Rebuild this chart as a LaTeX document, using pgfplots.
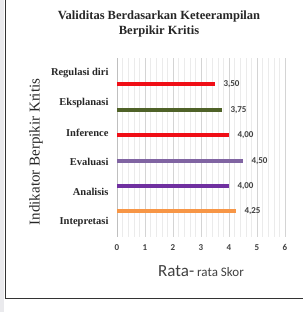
\documentclass[border=0pt]{standalone}
\usepackage{pgfplots}
\pgfplotsset{compat=1.18}
\usepackage{fontspec}
\setmainfont{Liberation Serif}
\newfontfamily\calib{Carlito}

\definecolor{barred}{HTML}{F00E16}
\definecolor{barolive}{HTML}{4F6228}
\definecolor{barlilac}{HTML}{8064A2}
\definecolor{barpurple}{HTML}{7030A0}
\definecolor{barorange}{HTML}{F79646}
\definecolor{txtgray}{HTML}{404040}

\begin{document}
\begin{tikzpicture}[x=1pt,y=1pt]
\useasboundingbox (0,0) rectangle (303,312);
% page margin strip and frame
\fill[blue!8!gray!15] (0,0) rectangle (4,312);
\draw[line width=1.2pt, black!80] (5.5,312) -- (5.5,13.5) -- (303,13.5);

% title
\node[font=\bfseries\fontsize{12.5}{15}\selectfont, align=center, text=black!85] at (159,288) {Validitas Berdasarkan Keteerampilan\\Berpikir Kritis};
% axis title on the left
\node[rotate=90, font=\fontsize{15}{17}\selectfont, text=black!85] at (36,160) {Indikator Berpikir Kritis};
% axis title below
\node[font=\calib, text=txtgray, anchor=base] at (201,35) {\fontsize{17}{19}\selectfont Rata-\fontsize{13}{15}\selectfont\ rata Skor};

\begin{axis}[
  at={(117pt,75pt)}, anchor=south west,
  scale only axis, width=168pt, height=179pt,
  xmin=0, xmax=6, ymin=-0.5, ymax=5.5,
  xtick={0,...,6}, minor x tick num=4,
  xmajorgrids, xminorgrids,
  major grid style={draw=black!17, line width=0.6pt},
  minor grid style={draw=black!8, line width=0.5pt},
  axis line style={draw=none},
  x tick style={draw=none},
  xticklabel style={font=\calib\bfseries\fontsize{9}{10}\selectfont, text=txtgray, yshift=-4pt},
  /pgf/number format/assume math mode=true,
  ytick={0,...,5},
  yticklabels={Intepretasi, Analisis, Evaluasi, Inference, Eksplanasi, Regulasi diri},
  yticklabel style={font=\bfseries\fontsize{10.5}{12}\selectfont, text=black!85, xshift=-5pt},
  y tick style={draw=none},
  extra y ticks={-0.5,0.5,1.5,2.5,3.5,4.5,5.5},
  extra y tick labels={},
  extra y tick style={tick style={draw=black!25, line width=0.5pt}, major tick length=4pt, tick align=outside, ytick pos=left},
  clip=false,
  point meta=x,
  nodes near coords={\pgfmathprintnumber[fixed,fixed zerofill,precision=2,use comma,assume math mode=true]{\pgfplotspointmeta}},
  every node near coord/.style={font=\calib\bfseries\fontsize{9}{10}\selectfont, text=txtgray, anchor=west, xshift=5pt},
]
\draw[black!25, line width=0.6pt] (axis cs:0,-0.5) -- (axis cs:0,5.5);
\addplot[xbar, bar width=4.5pt, bar shift=0pt, fill=barred, draw=none] coordinates {(3.50,4.63)};
\addplot[xbar, bar width=4.5pt, bar shift=0pt, fill=barolive, draw=none] coordinates {(3.75,3.76)};
\addplot[xbar, bar width=4.5pt, bar shift=0pt, fill=barred, draw=none] coordinates {(4.00,2.92)};
\addplot[xbar, bar width=4.5pt, bar shift=0pt, fill=barlilac, draw=none] coordinates {(4.50,2.05)};
\addplot[xbar, bar width=4.5pt, bar shift=0pt, fill=barpurple, draw=none] coordinates {(4.00,1.21)};
\addplot[xbar, bar width=4.5pt, bar shift=0pt, fill=barorange, draw=none] coordinates {(4.25,0.37)};
\end{axis}
\end{tikzpicture}
\end{document}
